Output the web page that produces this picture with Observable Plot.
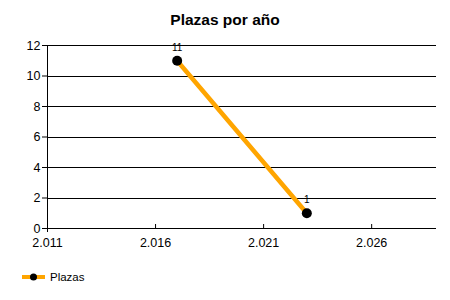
<!DOCTYPE html>
<html>
<head>
<meta charset="utf-8">
<script src="https://cdn.jsdelivr.net/npm/d3@7"></script>
<script src="https://cdn.jsdelivr.net/npm/@observablehq/plot@0.6"></script>
<style>
  body { margin: 0; background: #fff; font-family: "Liberation Sans", Arial, sans-serif; }
  #wrap { width: 450px; height: 300px; position: relative; overflow: hidden; }
  #title { height: 36px; line-height: 40px; text-align: center; font-weight: bold; font-size: 15.5px; color: #000; }
  #legend { position: absolute; left: 20px; top: 268px; height: 18px; display: flex; align-items: center; font-size: 11.5px; color: #000; }
</style>
</head>
<body>
<div id="wrap">
  <div id="title">Plazas por año</div>
  <div id="chart"></div>
  <div id="legend"></div>
</div>
<script>
const years = [2017, 2023];
const plazas = [11, 1];
const labels = ["11", "1"];
const seriesName = "Plazas";
const xTicks = [2011, 2016, 2021, 2026];
const yTicks = [0, 2, 4, 6, 8, 10, 12];

const data = years.map((y, i) => ({year: y, value: plazas[i], label: labels[i]}));
const es = d3.formatLocale({decimal: ",", thousands: ".", grouping: [3], currency: ["", "€"]});
const fmt = es.format(",");

const chart = Plot.plot({
  width: 450,
  height: 220,
  marginLeft: 47,
  marginRight: 14,
  marginTop: 9,
  marginBottom: 28,
  style: {fontFamily: "Liberation Sans, Arial, sans-serif", fontSize: "12.5px", color: "#000", background: "#fff"},
  x: {domain: [2011, 2029]},
  y: {domain: [0, 12]},
  marks: [
    Plot.ruleY(yTicks, {x1: 2011, x2: 2029, stroke: "#000", strokeWidth: 1, shapeRendering: "crispEdges"}),
    Plot.ruleX([2011], {y1: -0.25, y2: 12, stroke: "#000", strokeWidth: 1, shapeRendering: "crispEdges"}),
    Plot.axisY({ticks: yTicks, tickSize: 5, tickPadding: 2, label: null, fontSize: 12.5, stroke: "#000", strokeOpacity: 1}),
    Plot.axisX({ticks: xTicks, tickFormat: fmt, tickSize: -4, tickPadding: 14, label: null, fontSize: 12.5, stroke: "#000", strokeOpacity: 1}),
    Plot.line(data, {x: "year", y: "value", stroke: "#FFA500", strokeWidth: 4.5}),
    Plot.dot(data, {x: "year", y: "value", r: 5, fill: "#000"}),
    Plot.text(data, {x: "year", y: "value", text: "label", dy: -13, fontSize: 10, fill: "#000"})
  ]
});
document.getElementById("chart").appendChild(chart);

const lg = document.getElementById("legend");
lg.innerHTML = `<svg width="28" height="18"><line x1="2" x2="25" y1="9" y2="9" stroke="#FFA500" stroke-width="4"/><circle cx="13.5" cy="9" r="3.5" fill="#000"/></svg><span style="margin-left:2px">${seriesName}</span>`;
</script>
</body>
</html>
